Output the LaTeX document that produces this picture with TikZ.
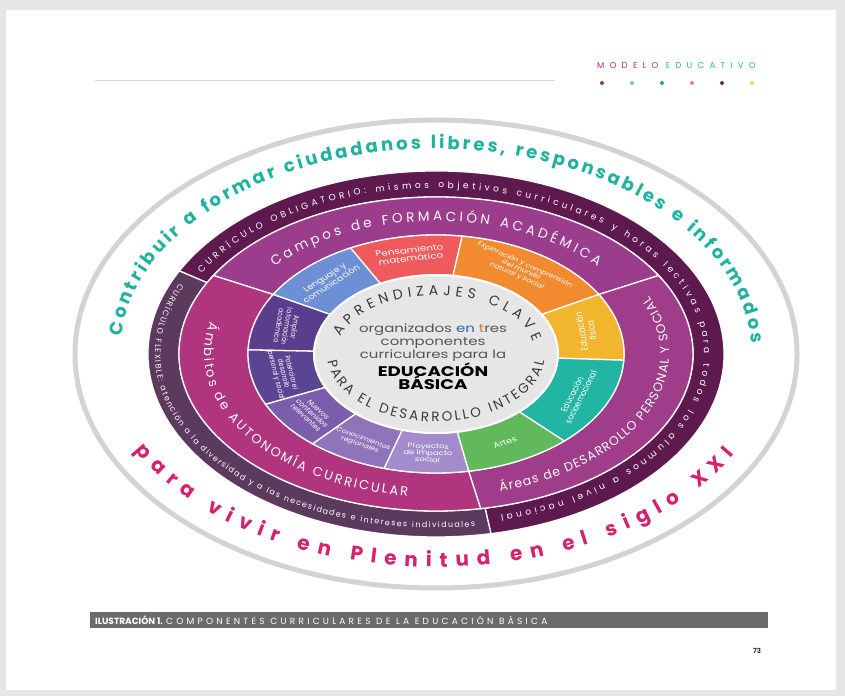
\documentclass[tikz,border=0pt]{standalone}
\usepackage{fontspec}
\setmainfont{Poppins}
\usetikzlibrary{decorations.text}
\definecolor{pagebg}{HTML}{E6E6E6}
\definecolor{hdrline}{HTML}{D6D6D6}
\definecolor{modc}{HTML}{B0307A}
\definecolor{educ}{HTML}{2AB3A6}
\definecolor{obl}{HTML}{5E1A4E}
\definecolor{flex}{HTML}{5B3A5D}
\definecolor{campos}{HTML}{9B3C8D}
\definecolor{areas}{HTML}{A03D8A}
\definecolor{ambitos}{HTML}{B0357E}
\definecolor{lenguaje}{HTML}{6C8FD6}
\definecolor{pensam}{HTML}{EF5A5C}
\definecolor{explor}{HTML}{F28A2F}
\definecolor{fisica}{HTML}{F2B52E}
\definecolor{socio}{HTML}{23B5A3}
\definecolor{artes}{HTML}{62B95B}
\definecolor{ampliar}{HTML}{5B3D8D}
\definecolor{potenc}{HTML}{5A4592}
\definecolor{nuevos}{HTML}{7B5EAB}
\definecolor{conoc}{HTML}{8F74BA}
\definecolor{proyec}{HTML}{A48BCB}
\definecolor{innerg}{HTML}{E6E6E6}
\definecolor{teal1}{HTML}{1FB39F}
\definecolor{mag1}{HTML}{D6216E}
\definecolor{ringgray}{HTML}{D3D3D3}
\definecolor{capgray}{HTML}{6B6B6E}
\definecolor{darkt}{HTML}{3A3A3A}
\definecolor{centg}{HTML}{555555}
\definecolor{enblue}{HTML}{3563A8}
\definecolor{torange}{HTML}{D9772F}
\definecolor{dotA}{HTML}{9B2F6F}
\definecolor{dotB}{HTML}{8AB4D8}
\definecolor{dotC}{HTML}{1AA99A}
\definecolor{dotD}{HTML}{E08A7A}
\definecolor{dotE}{HTML}{6A2A5F}
\definecolor{dotF}{HTML}{E8D060}
% ring sector: colour, start, end, inner rx, inner ry, outer rx, outer ry
\newcommand{\rsec}[7]{%
  \fill[#1,draw=white,line width=1.3pt] (#2:#6 and #7)
    arc[start angle=#2,end angle=#3,x radius=#6,y radius=#7]
    -- (#3:#4 and #5)
    arc[start angle=#3,end angle=#2,x radius=#4,y radius=#5] -- cycle;}
% segment label: [size] name, angle, pre-rotation, text
\newcommand{\seglab}[5][7]{%
  \node[inner sep=0pt,text=white] (#2) at (#3:156 and 100)
    {\scalebox{1.3}[1]{\rotatebox{#4}{\fontsize{#1}{#1}\selectfont
     \def\arraystretch{0.92}\begin{tabular}{@{}c@{}}#5\end{tabular}}}};}
\begin{document}
\begin{tikzpicture}[x=1pt,y=1pt]
\useasboundingbox (0,0) rectangle (845,696);
\fill[pagebg] (0,0) rectangle (845,696);
\fill[white] (6,6) rectangle (836,686);
% header
\draw[hdrline,line width=0.6pt] (95,616) -- (555,616);
\node[anchor=west,inner sep=0pt,font=\fontsize{8.5}{8.5}\selectfont] (hdr) at (597,630)
  {\addfontfeature{LetterSpace=62}\textcolor{modc}{MODELO} \textcolor{educ}{EDUCATIVO}};
\foreach \xx/\cc in {602/dotA,632/dotB,662/dotC,692/dotD,722/dotE,752/dotF}
  \fill[\cc] (\xx,613) circle (2);
% caption
\fill[capgray] (90,68) rectangle (768,84);
\node[anchor=west,inner sep=0pt,text=white,font=\fontsize{9}{9}\selectfont] (cap) at (95,76)
  {\textbf{ILUSTRACIÓN 1.} \addfontfeature{LetterSpace=36}COMPONENTES CURRICULARES DE LA EDUCACIÓN BÁSICA};
\node[inner sep=0pt,text=darkt,font=\fontsize{7}{7}\selectfont\bfseries] (pg) at (757,45) {73};

\begin{scope}[shift={(436,342)}]
\draw[ringgray,line width=5pt] (0,0) ellipse[x radius=361,y radius=234];
% outer dark ring
\rsec{obl}{153}{-79}{257}{157}{288}{183}
\rsec{flex}{153}{281}{257}{157}{288}{183}
% magenta ring
\rsec{campos}{150}{30}{188}{119}{257}{157}
\rsec{areas}{30}{-80}{188}{119}{257}{157}
\rsec{ambitos}{150}{280}{188}{119}{257}{157}
% segments
\rsec{lenguaje}{150}{117}{122}{79}{188}{119}
\rsec{pensam}{117}{82}{122}{79}{188}{119}
\rsec{explor}{82}{30}{122}{79}{188}{119}
\rsec{fisica}{30}{-3}{122}{79}{188}{119}
\rsec{socio}{-3}{-47}{122}{79}{188}{119}
\rsec{artes}{-47}{-80}{122}{79}{188}{119}
\rsec{ampliar}{150}{178}{122}{79}{188}{119}
\rsec{potenc}{178}{205}{122}{79}{188}{119}
\rsec{nuevos}{205}{229}{122}{79}{188}{119}
\rsec{conoc}{229}{254}{122}{79}{188}{119}
\rsec{proyec}{254}{280}{122}{79}{188}{119}
% inner disc
\filldraw[fill=innerg,draw=white,line width=2pt] (0,0) ellipse[x radius=122,y radius=79];

% outer texts
\path[decorate,decoration={text along path,text color=teal1,text align={fit to path},
  text={|\fontsize{18}{18}\selectfont\bfseries|Contribuir a formar ciudadanos libres, responsables e informados}}]
  (175:316 and 205) arc[start angle=175,end angle=3,x radius=316,y radius=205];
\path[decorate,decoration={text along path,text color=mag1,text align={fit to path},
  text={|\fontsize{20}{20}\selectfont\bfseries|para vivir en Plenitud en el siglo XXI}}]
  (207:338 and 213) arc[start angle=207,end angle=332,x radius=338,y radius=213];
% dark ring texts
\path[decorate,decoration={text along path,text color=white,text align={fit to path},
  text={|\fontsize{9}{9}\selectfont|CURRÍCULO OBLIGATORIO: mismos objetivos curriculares y horas lectivas para todos los alumnos a nivel nacional}}]
  (151:268 and 166) arc[start angle=151,end angle=-76,x radius=268,y radius=166];
\path[decorate,decoration={text along path,text color=white,text align={fit to path},
  text={|\fontsize{8}{8}\selectfont|CURRÍCULO FLEXIBLE: atención a la diversidad y a las necesidades e intereses individuales}}]
  (156:281 and 174) arc[start angle=156,end angle=278,x radius=281,y radius=174];
% magenta ring texts
\path[decorate,decoration={text along path,text color=white,text align={fit to path},
  text={|\fontsize{13.5}{14}\selectfont|Campos de FORMACIÓN ACADÉMICA}}]
  (139:214 and 133) arc[start angle=139,end angle=41,x radius=214,y radius=133];
\path[decorate,decoration={text along path,text color=white,text align={fit to path},
  text={|\fontsize{12.5}{13}\selectfont|Áreas de DESARROLLO PERSONAL Y SOCIAL}}]
  (-74:233 and 143) arc[start angle=-74,end angle=24,x radius=233,y radius=143];
\path[decorate,decoration={text along path,text color=white,text align={fit to path},
  text={|\fontsize{13}{13}\selectfont|Ámbitos de AUTONOMÍA CURRICULAR}}]
  (167:232 and 143) arc[start angle=167,end angle=263,x radius=232,y radius=143];
% inner arc texts
\path[decorate,decoration={text along path,text color=darkt,text align={fit to path},
  text={|\fontsize{14}{14}\selectfont|APRENDIZAJES CLAVE}}]
  (163:100 and 59) arc[start angle=163,end angle=12,x radius=100,y radius=59];
\path[decorate,decoration={text along path,text color=darkt,text align={fit to path},
  text={|\fontsize{13.5}{14}\selectfont|PARA EL DESARROLLO INTEGRAL}}]
  (186:109 and 68) arc[start angle=186,end angle=354,x radius=109,y radius=68];

% segment labels
\seglab[7.5]{lab1}{133.5}{39.4}{Lenguaje y\\comunicación}
\seglab[8]{lab2}{99.5}{8.2}{Pensamiento\\matemático}
\seglab[6.2]{lab3}{57}{-30.3}{Exploración y comprensión\\del mundo\\natural y social}
\seglab[7.4]{lab4}{13.5}{97.4}{Educación\\física}
\seglab[7]{lab5}{-25}{68.5}{Educación\\socioemocional}
\seglab[7.5]{lab6}{-63.5}{23.3}{Artes}
\seglab[5.8]{lab7}{164}{-97.4}{Ampliar\\la formación\\académica}
\seglab[5.8]{lab8}{191.5}{-78.8}{Potenciar el\\desarrollo\\personal y social}
\seglab[6.2]{lab9}{217}{-49}{Nuevos\\contenidos\\relevantes}
\seglab[6]{lab10}{241.5}{-25.2}{Conocimientos\\regionales}
\seglab[6.5]{lab11}{267}{-2.6}{Proyectos\\de impacto\\social}
\end{scope}

% centre text
\node[inner sep=0pt,text=centg] (c1) at (433,366) {\scalebox{1.3}[1]{\fontsize{11.5}{12}\selectfont organizados \textcolor{enblue}{en} \textcolor{torange}{t}res}};
\node[inner sep=0pt,text=centg] (c2) at (433,353) {\scalebox{1.3}[1]{\fontsize{11.5}{12}\selectfont componentes}};
\node[inner sep=0pt,text=centg] (c3) at (433,340) {\scalebox{1.3}[1]{\fontsize{11.5}{12}\selectfont curriculares para la}};
\node[inner sep=0pt,text=black] (c4) at (433,326) {\scalebox{1.3}[1]{\fontsize{14}{14}\selectfont\bfseries EDUCACIÓN}};
\node[inner sep=0pt,text=black] (c5) at (433,313) {\scalebox{1.3}[1]{\fontsize{14}{14}\selectfont\bfseries BÁSICA}};
\end{tikzpicture}
\end{document}
